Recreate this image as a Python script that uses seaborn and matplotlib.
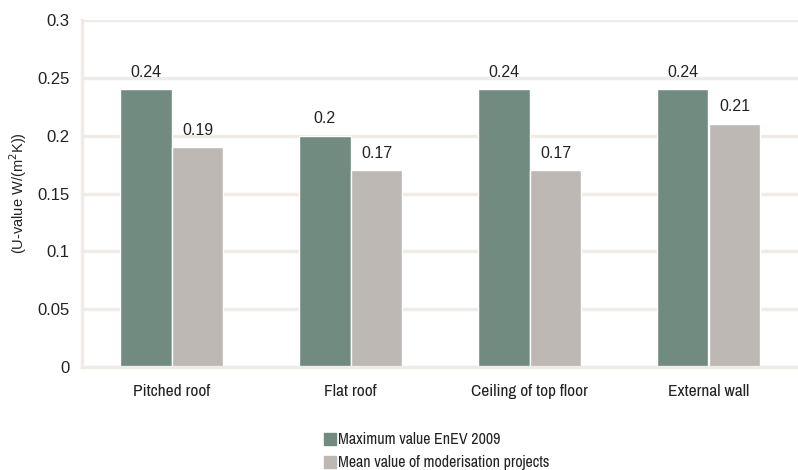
import matplotlib
matplotlib.use("Agg")
import matplotlib.pyplot as plt
import seaborn as sns
import pandas as pd
from matplotlib.lines import Line2D

categories = ["Pitched roof", "Flat roof", "Ceiling of top floor", "External wall"]
series_names = ["Maximum value EnEV 2009", "Mean value of moderisation projects"]
max_enev = [0.24, 0.2, 0.24, 0.24]
mean_proj = [0.19, 0.17, 0.17, 0.21]
yticks = [0, 0.05, 0.1, 0.15, 0.2, 0.25, 0.3]
ytick_labels = ["0", "0.05", "0.1", "0.15", "0.2", "0.25", "0.3"]
colors = ["#718b80", "#bdb8b3"]
grid_color = "#efebe6"

df = pd.DataFrame({
    "category": categories * 2,
    "series": [series_names[0]] * 4 + [series_names[1]] * 4,
    "value": max_enev + mean_proj,
})

sns.set_theme(style="white")
plt.rcParams["font.family"] = ["Liberation Sans", "DejaVu Sans"]
narrow = ["Archivo Narrow", "Liberation Sans", "DejaVu Sans"]

fig = plt.figure(figsize=(7.98, 4.70), dpi=100)
ax = fig.add_axes([82 / 798, 103 / 470, 716 / 798, 347 / 470])

sns.barplot(data=df, x="category", y="value", hue="series", palette=colors,
            width=0.58, saturation=1, ax=ax, legend=False)

ax.set_ylim(0, 0.3)
ax.set_xlim(-0.5, 3.5)
ax.set_yticks(yticks)
ax.set_yticklabels(ytick_labels, fontsize=12, color="#222222")
ax.yaxis.grid(True, color=grid_color, linewidth=2.4)
ax.set_axisbelow(True)
ax.tick_params(axis="both", length=0)
ax.tick_params(axis="y", pad=9)
ax.tick_params(axis="x", pad=12)
for lbl in ax.get_xticklabels():
    lbl.set_fontfamily(narrow)
    lbl.set_fontsize(12.5)
    lbl.set_color("#222222")

for s in ["top", "right"]:
    ax.spines[s].set_visible(False)
for s in ["left", "bottom"]:
    ax.spines[s].set_color(grid_color)
    ax.spines[s].set_linewidth(2.4)

ax.set_xlabel("")
ax.set_ylabel("(U-value W/(m$^2$K))", fontsize=10.5, color="#222222", labelpad=6)

for cont in ax.containers:
    ax.bar_label(cont, labels=[f"{v:g}" for v in cont.datavalues], padding=7,
                 fontsize=11.5, color="#222222")

handles = [Line2D([0], [0], marker="s", linestyle="", markersize=9,
                  markerfacecolor=c, markeredgecolor=c) for c in colors]
leg = fig.legend(handles, series_names, loc="upper left",
                 bbox_to_anchor=(316 / 798, 1 - 426 / 470), frameon=False,
                 prop={"family": narrow, "size": 11.5}, handletextpad=0.0,
                 handlelength=1.0, labelspacing=0.5, borderaxespad=0)
for t in leg.get_texts():
    t.set_color("#222222")

fig.savefig("out.png", dpi=100)
